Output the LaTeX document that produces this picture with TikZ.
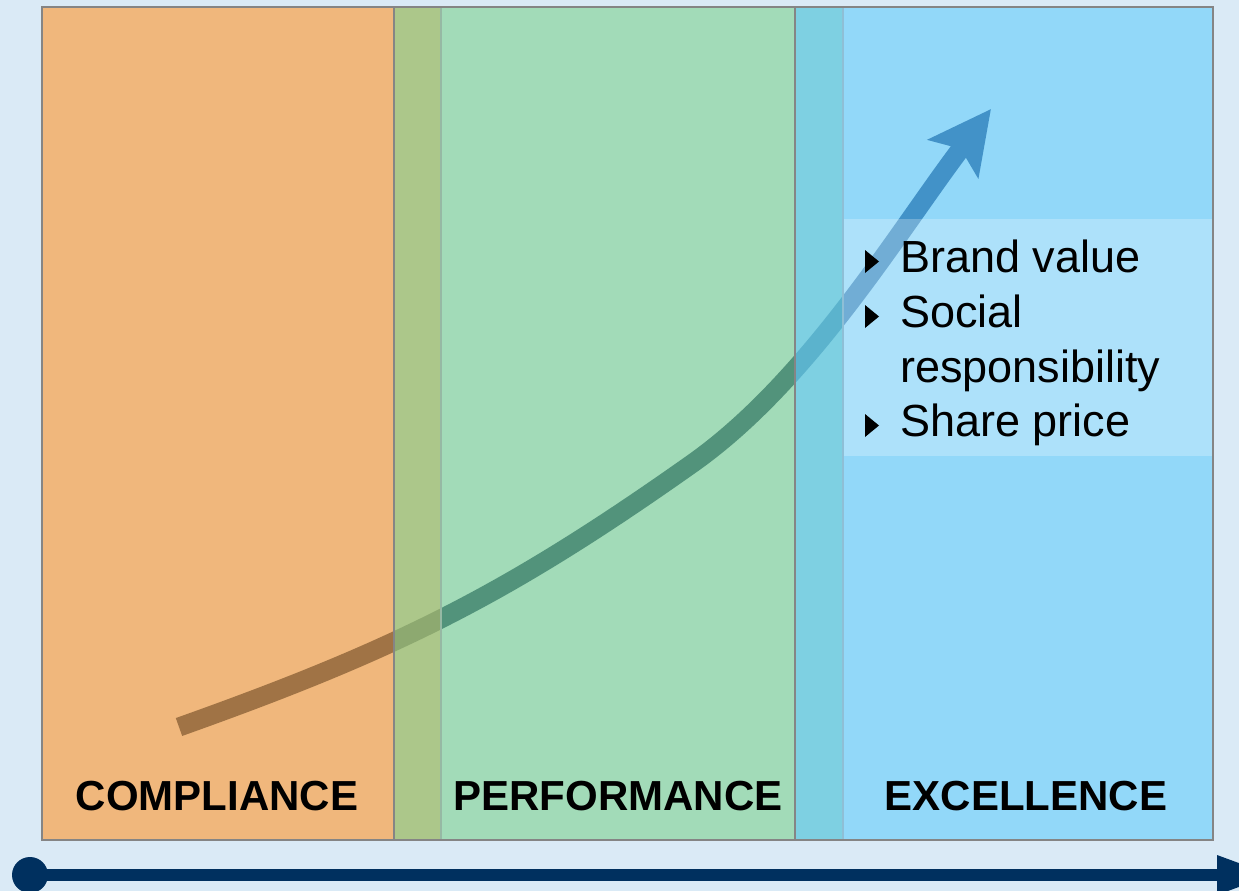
\documentclass[tikz,border=0pt]{standalone}
\usepackage{fontspec}
\setmainfont{Liberation Sans}
\usetikzlibrary{arrows.meta}
\definecolor{bgblue}{HTML}{DAEAF6}
\definecolor{compl}{HTML}{F0B77C}
\definecolor{perf}{HTML}{A2DBB8}
\definecolor{excel}{HTML}{92D8F9}
\definecolor{cpmix}{HTML}{ACC78A}
\definecolor{pemix}{HTML}{7ED0E2}
\definecolor{edge}{HTML}{858585}
\definecolor{axisblue}{HTML}{00305F}
\definecolor{curvebrown}{HTML}{A07345}
\definecolor{curveolive}{HTML}{8DA970}
\definecolor{curveteal}{HTML}{52937B}
\definecolor{curvecyan}{HTML}{5BB3CD}
\definecolor{curveblue}{HTML}{4292C8}

\begin{document}
\begin{tikzpicture}[x=1pt,y=-1pt]
\tikzstyle{every node}+=[inner sep=0pt]
\tikzstyle{band}=[draw=edge,line width=2.5pt]
\tikzstyle{stage}=[font=\fontsize{42}{42}\selectfont\bfseries,anchor=base]
\tikzstyle{item}=[font=\fontsize{45}{45}\selectfont,anchor=base west]
\useasboundingbox (0,0) rectangle (1239,891);
\fill [bgblue] (0,0) rectangle (1239,891);
\fill [compl] (42,7) rectangle (441,840);
\fill [perf] (394,7) rectangle (843,840);
\fill [excel] (795,7) rectangle (1213,840);
\fill [cpmix] (394,7) rectangle (441,840);
\fill [pemix] (795,7) rectangle (843,840);
% growth curve, one colour per band
\foreach \xa/\xb/\col in {0/394/curvebrown,394/441/curveolive,441/795/curveteal,795/843/curvecyan,843/1239/curveblue}
{
\begin{scope}
\clip (\xa,0) rectangle (\xb,891);
\draw [\col,line width=19pt,-{Stealth[length=62pt,width=62pt,inset=12pt]}] (179,727) .. controls (395,650) and (505,596) .. (693,463) .. controls (810,380) and (899,230) .. (991,109);
\end{scope}
}
\fill [white,fill opacity=0.25] (843,219) rectangle (1212,456);
\draw [perf!60!edge,line width=1.5pt] (441,7) -- (441,840);
\draw [excel!70!edge,line width=1.5pt] (843,7) -- (843,840);
\draw [band] (42,7) rectangle (1213,840);
\draw [band] (394,7) -- (394,840);
\draw [band] (795,7) -- (795,840);
\node [stage] (compliance) at (217,810) {COMPLIANCE};
\node [stage] (performance) at (618,810) {PERFORMANCE};
\node [stage] (excellence) at (1026,810) {EXCELLENCE};
\node [item] (brand) at (900,272) {Brand value};
\node [item] (social) at (900,327) {Social};
\node [item] (resp) at (900,382) {responsibility};
\node [item] (share) at (900,436) {Share price};
\foreach \n in {brand,social,share}
\fill ([shift={(-35,1)}]\n.base west) -- ++(0,-23) -- ++(14,11.5) -- cycle;
\node [circle,fill=axisblue,minimum size=36pt] (start) at (30,875) {};
\coordinate (end) at (1274,875);
\draw [axisblue,line width=12pt,-{Triangle[length=57pt,width=36pt]}] (start.center) -- (end);
\end{tikzpicture}
\end{document}
